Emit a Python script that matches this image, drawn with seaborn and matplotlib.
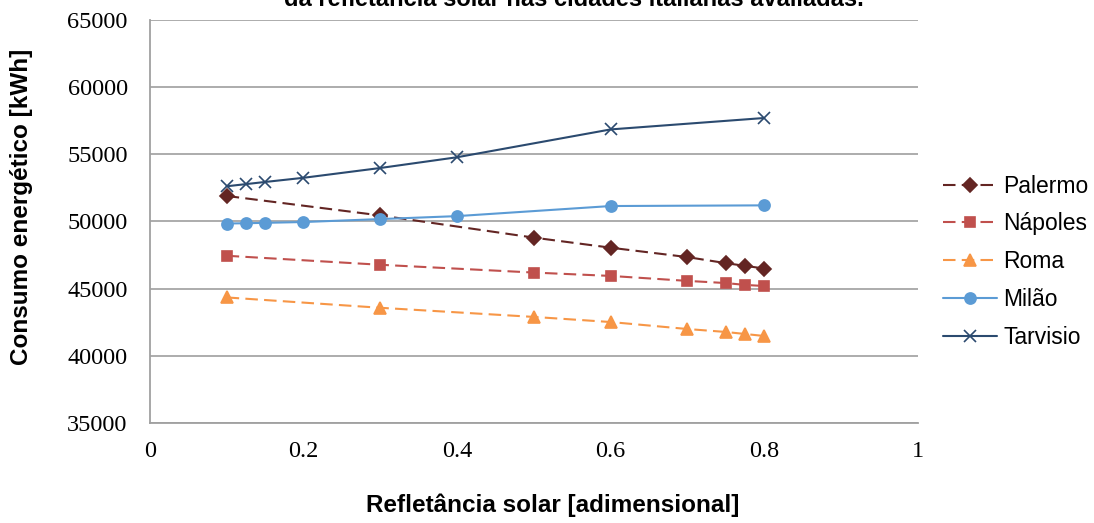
import numpy as np
import pandas as pd
import matplotlib
matplotlib.use('Agg')
import matplotlib.pyplot as plt
import seaborn as sns

# refletancia e consumo
x_sul = [0.1, 0.3, 0.5, 0.6, 0.7, 0.75, 0.775, 0.8]
palermo = [51900, 50450, 48800, 48050, 47350, 46900, 46700, 46500]
napoles = [47450, 46780, 46200, 45950, 45580, 45420, 45280, 45200]
roma = [44350, 43580, 42900, 42520, 42000, 41780, 41630, 41480]

x_norte = [0.1, 0.125, 0.15, 0.2, 0.3, 0.4, 0.6, 0.8]
milao = [49850, 49870, 49900, 49960, 50180, 50400, 51150, 51200]
tarvisio = [52620, 52780, 52940, 53250, 53980, 54780, 56850, 57700]

cidades = ['Palermo', 'Nápoles', 'Roma', 'Milão', 'Tarvisio']
cores = ['#632523', '#C0504D', '#F79646', '#5B9BD5', '#2B4A6F']

sns.set_style('white')
plt.rcParams['font.family'] = ['Liberation Sans', 'DejaVu Sans']
plt.rcParams['text.color'] = 'black'

fig = plt.figure(figsize=(10.94, 5.23), dpi=100)
ax = fig.add_axes([0.137, 0.191, 0.702, 0.771])

series = [
    (x_sul, palermo, 'D', (0, (6, 3)), 7, 'Palermo'),
    (x_sul, napoles, 's', (0, (6, 3)), 7, 'Nápoles'),
    (x_sul, roma, '^', (0, (6, 3)), 8, 'Roma'),
    (x_norte, milao, 'o', '-', 8, 'Milão'),
    (x_norte, tarvisio, 'x', '-', 8, 'Tarvisio'),
]
for (xs, ys, mk, ls, ms, nome), cor in zip(series, cores):
    df = pd.DataFrame({'x': xs, 'y': ys})
    sns.lineplot(data=df, x='x', y='y', ax=ax, color=cor, marker=mk,
                 markersize=ms, markeredgecolor=cor, markeredgewidth=1.2,
                 linestyle=ls, linewidth=1.5, label=nome)

ax.set_xlim(0, 1)
ax.set_ylim(35000, 65000)
ax.set_xticks([0, 0.2, 0.4, 0.6, 0.8, 1])
ax.set_xticklabels(['0', '0.2', '0.4', '0.6', '0.8', '1'])
ax.set_yticks(np.arange(35000, 65001, 5000))
ax.set_yticklabels([str(v) for v in range(35000, 65001, 5000)])
for lab in ax.get_xticklabels() + ax.get_yticklabels():
    lab.set_family('Liberation Serif')
    lab.set_fontsize(17.5)
ax.tick_params(axis='both', direction='out', length=6, color='#A0A0A0', width=1,
               labelcolor='black')
ax.tick_params(axis='x', pad=7)
ax.tick_params(axis='y', pad=10)
ax.yaxis.grid(True, color='#A6A6A6', linewidth=1.3)
for s in ['top', 'right']:
    ax.spines[s].set_visible(False)
for s in ['left', 'bottom']:
    ax.spines[s].set_color('#A0A0A0')
    ax.spines[s].set_linewidth(1.3)

ax.set_xlabel('')
ax.set_ylabel('')
fig.text(0.505, 0.034, 'Refletância solar [adimensional]', ha='center', va='center',
         fontsize=17.5, fontweight='bold')
fig.text(0.020, 0.604, 'Consumo energético [kWh]', ha='center', va='center',
         rotation=90, fontsize=17.5, fontweight='bold')

leg = ax.legend(loc='center left', bbox_to_anchor=(1.021, 0.40), frameon=False,
                borderaxespad=0, fontsize=16.5, handlelength=2.36,
                labelspacing=0.65, handletextpad=0.26)

# titulo cortado no topo, como na imagem original
fig.text(0.525, 1.0, 'da refletância solar nas cidades italianas avaliadas.',
         ha='center', va='center', fontsize=17, fontweight='bold')

fig.savefig('out.png', dpi=100)
